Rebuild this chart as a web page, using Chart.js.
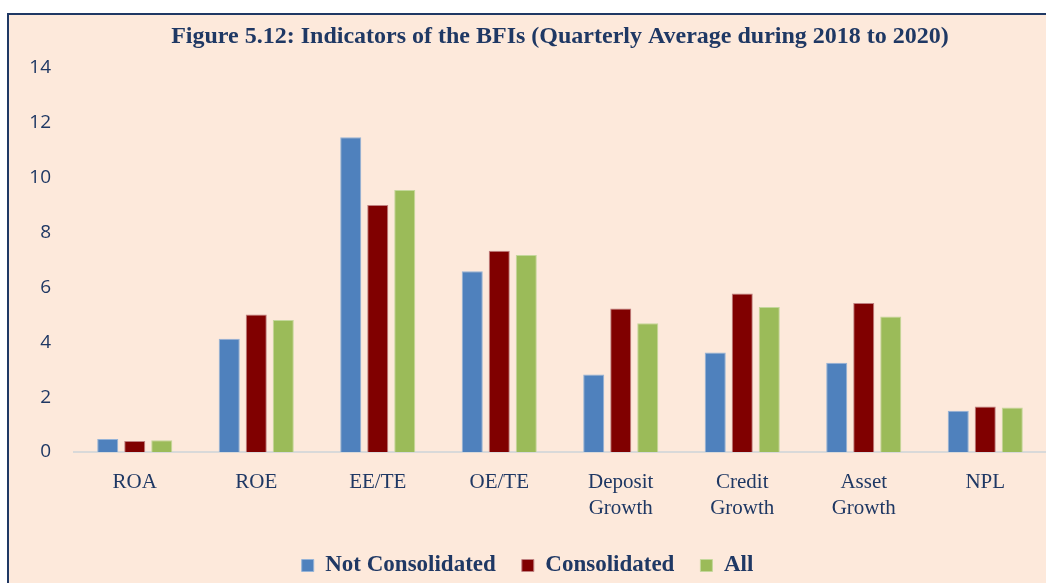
<!DOCTYPE html>
<html>
<head>
<meta charset="utf-8">
<script src="https://cdn.jsdelivr.net/npm/chart.js@4.4.1/dist/chart.umd.min.js"></script>
<style>
  html, body { margin: 0; padding: 0; background: #ffffff; width: 1046px; height: 583px; overflow: hidden; }
  #frame { position: absolute; left: 7px; top: 13px; width: 1100px; height: 700px;
           background: #FDE9DB; border-left: 2px solid #1F3864; border-top: 2px solid #1F3864; }
  #c { position: absolute; left: 9px; top: 15px; }
</style>
</head>
<body>
<div id="frame"></div>
<canvas id="c" width="1037" height="572"></canvas>
<script>
const categories = ['ROA', 'ROE', 'EE/TE', 'OE/TE', ['Deposit', 'Growth'], ['Credit', 'Growth'], ['Asset', 'Growth'], 'NPL'];
const notConsolidated = [0.47, 4.13, 11.47, 6.59, 2.82, 3.63, 3.25, 1.50];
const consolidated = [0.40, 5.01, 9.00, 7.33, 5.23, 5.78, 5.43, 1.66];
const allBFIs = [0.43, 4.81, 9.55, 7.18, 4.69, 5.28, 4.94, 1.62];
const seriesNames = ['Not Consolidated', 'Consolidated', 'All'];
const yTicks = [0, 2, 4, 6, 8, 10, 12, 14];
const titleText = 'Figure 5.12: Indicators of the BFIs (Quarterly Average during 2018 to 2020)';

const navy = '#1F3864';
const colors = ['#4F81BD', '#800000', '#9BBB59'];
const edge = ['#95B3D7', '#C08080', '#C4D79B'];

new Chart(document.getElementById('c'), {
  type: 'bar',
  data: {
    labels: categories,
    datasets: [notConsolidated, consolidated, allBFIs].map((d, i) => ({
      label: seriesNames[i],
      data: d,
      backgroundColor: colors[i],
      borderColor: edge[i],
      borderWidth: 1,
      categoryPercentage: 0.667,
      barPercentage: 0.78
    }))
  },
  options: {
    responsive: false,
    animation: false,
    devicePixelRatio: 1,
    layout: { padding: { left: 0, right: 0, top: 0, bottom: 0 } },
    plugins: {
      tooltip: { enabled: false },
      title: {
        display: true,
        text: titleText,
        fullSize: false,
        color: navy,
        font: { family: 'Liberation Serif', size: 24, weight: 'bold', lineHeight: 1.2 },
        padding: { top: 7, bottom: 17 }
      },
      legend: {
        position: 'bottom',
        labels: {
          color: navy,
          font: { family: 'Liberation Serif', size: 23, weight: 'bold' },
          boxWidth: 12,
          boxHeight: 12,
          padding: 26
        }
      }
    },
    scales: {
      x: {
        grid: { display: false, drawTicks: false },
        border: { display: true, color: '#D9D9D9', width: 2 },
        ticks: {
          color: navy,
          padding: 17,
          maxRotation: 0,
          autoSkip: false,
          font: { family: 'Liberation Serif', size: 21, lineHeight: 1.25 }
        },
        afterFit: (s) => { s.height = 76; }
      },
      y: {
        min: 0,
        max: 14,
        grid: { display: false, drawTicks: false },
        border: { display: false },
        afterBuildTicks: (s) => { s.ticks = yTicks.map(v => ({ value: v })); },
        ticks: {
          color: navy,
          padding: 23,
          font: { family: 'Open Sans', size: 19 }
        },
        afterFit: (s) => { s.width = 65; }
      }
    }
  }
});
</script>
</body>
</html>
